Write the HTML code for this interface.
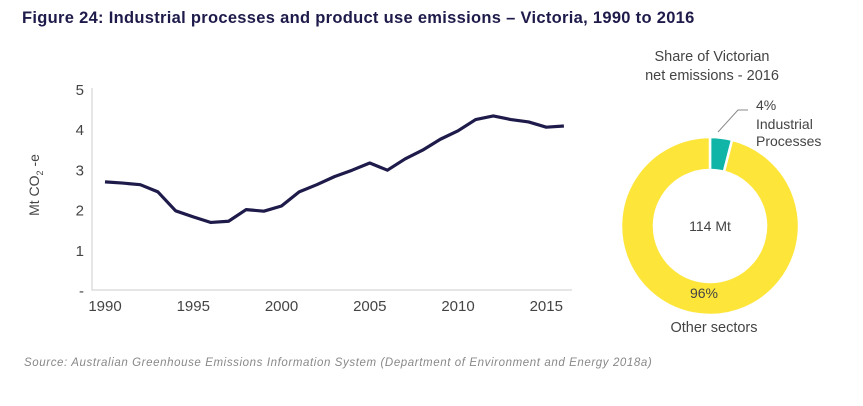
<!DOCTYPE html>
<html><head><meta charset="utf-8"><style>
body{margin:0;width:863px;height:401px;background:#fff;font-family:"Liberation Sans",sans-serif;overflow:hidden}
svg text{font-family:"Liberation Sans",sans-serif}
</style></head><body>
<svg width="863" height="401">
<text x="22" y="23" font-size="16.5" font-weight="bold" fill="#1e1b4b" letter-spacing="0.3">Figure 24: Industrial processes and product use emissions – Victoria, 1990 to 2016</text>
<g id="line-chart"></g>
<g id="donut"></g>
<text x="24" y="366" font-size="11.5" font-style="italic" fill="#888" letter-spacing="0.6">Source: Australian Greenhouse Emissions Information System (Department of Environment and Energy 2018a)</text>
</svg>
<script>
const years=[1990,1991,1992,1993,1994,1995,1996,1997,1998,1999,2000,2001,2002,2003,2004,2005,2006,2007,2008,2009,2010,2011,2012,2013,2014,2015,2016];
const emissions=[2.69,2.66,2.62,2.44,1.97,1.82,1.68,1.71,2.0,1.96,2.09,2.44,2.62,2.82,2.98,3.16,2.98,3.26,3.48,3.75,3.96,4.24,4.33,4.24,4.18,4.05,4.08];
const yTicks=[0,1,2,3,4,5];
const yTickLabels=["-","1","2","3","4","5"];
const xTicks=[1990,1995,2000,2005,2010,2015];
const shareLabels=["Industrial Processes","Other sectors"];
const shareValues=[4,96];
const totalLabel="114 Mt";
const NS="http://www.w3.org/2000/svg";
function mk(t,a,p){const e=document.createElementNS(NS,t);for(const k in a)e.setAttribute(k,a[k]);p.appendChild(e);return e;}
const x=v=>105+(v-1990)*17.65;
const y=v=>290-v*40.2;
const g=document.getElementById('line-chart');
const ax=mk('path',{d:`M92 88V${y(0)}H572`,stroke:'#ccc',fill:'none','stroke-width':1},g);


yTicks.forEach((t,i)=>{const e=mk('text',{x:84,y:y(t)+6,'font-size':15,fill:'#444','text-anchor':'end'},g);e.textContent=yTickLabels[i];

});
xTicks.forEach(t=>{const e=mk('text',{x:x(t),y:311,'font-size':15,fill:'#444','text-anchor':'middle'},g);e.textContent=t;

});
const yt=mk('text',{transform:'translate(39,185) rotate(-90)','font-size':14,fill:'#444','text-anchor':'middle'},g);
yt.innerHTML='Mt CO<tspan font-size="9" dy="4">2</tspan><tspan dy="-4"> -e</tspan>';


const ln=mk('path',{d:years.map((yr,i)=>(i?'L':'M')+x(yr)+' '+y(emissions[i])).join(''),stroke:'#1e1b4b',fill:'none','stroke-width':3.2,'stroke-linejoin':'round'},g);


const d=document.getElementById('donut');
const cx=710,cy=226,R=89,r=56;
const tot=shareValues.reduce((a,b)=>a+b,0);
const cols=['#10b5a8','#fde53a'];
let a0=0;
function pt(rad,a){return [cx+rad*Math.sin(a),cy-rad*Math.cos(a)];}
shareValues.forEach((v,i)=>{const a1=a0+v/tot*2*Math.PI;const lg=(a1-a0)>Math.PI?1:0;
const p1=pt(R,a0),p2=pt(R,a1),p3=pt(r,a1),p4=pt(r,a0);
const s=mk('path',{d:`M${p1}A${R} ${R} 0 ${lg} 1 ${p2}L${p3}A${r} ${r} 0 ${lg} 0 ${p4}Z`,fill:cols[i],stroke:'#fff','stroke-width':2.5},d);


a0=a1;});
function txt(s,xx,yy,sz,anchor,name){const e=mk('text',{x:xx,y:yy,'font-size':sz,fill:'#444','text-anchor':anchor||'middle'},d);e.textContent=s;

return e;}
txt('Share of Victorian',712,61,14.5,'middle','donut-title');
txt('net emissions - 2016',712,80,14.5,'middle','donut-title');
txt(totalLabel,710,231,14,'middle','donut-total');
txt(Math.round(shareValues[0]/tot*100)+'%',756,110,14,'start','industrial-percent');
txt('Industrial',756,129,14,'start','industrial-label');
txt('Processes',756,146,14,'start','industrial-label');
txt(Math.round(shareValues[1]/tot*100)+'%',704,298,14,'middle','other-percent');
txt(shareLabels[1],714,332,14.5,'middle','other-label');
const ll=mk('path',{d:'M718 132L738 110H748',stroke:'#888',fill:'none'},d);


</script>
</body></html>
